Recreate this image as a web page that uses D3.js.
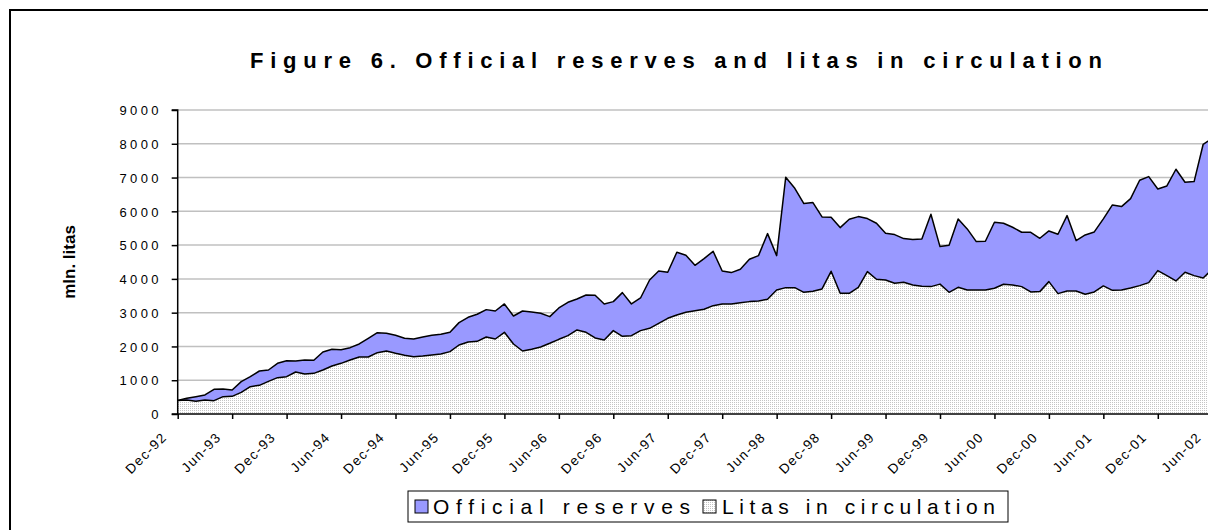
<!DOCTYPE html>
<html>
<head>
<meta charset="utf-8">
<script src="https://cdn.jsdelivr.net/npm/d3@7"></script>
<style>
  html, body { margin: 0; padding: 0; background: #fff; overflow: hidden; }
  svg { display: block; font-family: Arial, "Liberation Sans", sans-serif; font-variant-ligatures: none; }
</style>
</head>
<body>
<svg id="chart" width="1208" height="530"></svg>
<script>
// ---- data (monthly, Dec-92 .. Jun-02), mln. litas ----
const tickLabels = ["Dec-92","Jun-93","Dec-93","Jun-94","Dec-94","Jun-95","Dec-95","Jun-96","Dec-96","Jun-97",
  "Dec-97","Jun-98","Dec-98","Jun-99","Dec-99","Jun-00","Dec-00","Jun-01","Dec-01","Jun-02"];
const yTicks = [0,1000,2000,3000,4000,5000,6000,7000,8000,9000];
const seriesNames = ["Official reserves", "Litas in circulation"];

const officialReserves = [
  400,464,513,563,730,740,711,957,1105,1273,1303,1500,
  1579,1570,1600,1590,1836,1915,1905,1964,2073,2241,2409,2389,
  2330,2241,2221,2280,2330,2360,2419,2705,2863,2952,3090,3050,
  3258,2902,3050,3020,2981,2883,3140,3307,3406,3524,3514,3258,
  3327,3593,3258,3435,3968,4235,4195,4788,4699,4403,4600,4817,
  4235,4186,4284,4580,4689,5341,4689,7009,6683,6229,6259,5834,
  5824,5518,5765,5844,5785,5647,5350,5311,5193,5163,5183,5913,
  4956,4995,5775,5479,5104,5113,5676,5647,5528,5380,5380,5202,
  5420,5321,5874,5133,5301,5390,5775,6190,6140,6377,6920,7029,
  6663,6752,7246,6861,6881,7986,8164
];
const litasInCirculation = [
  400,415,375,415,395,513,523,642,810,849,967,1076,
  1105,1244,1185,1204,1303,1421,1500,1600,1688,1688,1816,1866,
  1797,1737,1698,1718,1747,1777,1846,2043,2132,2152,2280,2221,
  2419,2073,1866,1915,1984,2093,2211,2320,2488,2419,2251,2192,
  2468,2300,2320,2468,2537,2685,2833,2932,3011,3060,3100,3208,
  3258,3258,3297,3327,3346,3396,3672,3741,3741,3603,3633,3702,
  4225,3574,3574,3751,4215,3988,3968,3870,3899,3820,3781,3771,
  3845,3603,3751,3672,3672,3672,3722,3840,3820,3771,3613,3623,
  3919,3564,3643,3643,3544,3613,3791,3662,3672,3731,3801,3889,
  4245,4097,3939,4195,4097,4028,4284
];

// ---- layout ----
const svg = d3.select("#chart");
const plotLeft = 177.7, plotTop = 110, plotBottom = 414;
const monthStep = 9.075;
const n = officialReserves.length;
const x = d3.scaleLinear().domain([0, n - 1]).range([plotLeft, plotLeft + (n - 1) * monthStep]);
const y = d3.scaleLinear().domain([0, 9000]).range([plotBottom, plotTop]);
const narrow = "'Liberation Sans Narrow', 'Arial Narrow', Arial, sans-serif";

// pattern for litas area
const defs = svg.append("defs");
const pat = defs.append("pattern").attr("id", "dots").attr("width", 2).attr("height", 2)
  .attr("patternUnits", "userSpaceOnUse");
pat.append("rect").attr("width", 2).attr("height", 2).attr("fill", "#ffffff");
pat.append("rect").attr("width", 1).attr("height", 1).attr("fill", "#c4c4c4");

// frame
svg.append("rect").attr("x", 10).attr("y", 10).attr("width", 1400).attr("height", 700)
  .attr("fill", "#fff").attr("stroke", "#000").attr("stroke-width", 2);

// title
svg.append("text").attr("x", 250).attr("y", 68)
  .attr("font-size", 22).attr("font-weight", "bold").attr("font-family", narrow)
  .attr("textLength", 852).attr("lengthAdjust", "spacing")
  .text("Figure 6. Official reserves and litas in circulation");

// gridlines
svg.append("g").selectAll("line").data(yTicks.filter(d => d > 0)).join("line")
  .attr("x1", plotLeft).attr("x2", 1210)
  .attr("y1", d => y(d)).attr("y2", d => y(d))
  .attr("stroke", "#c0c0c0").attr("stroke-width", 1.5);

// areas
const areaRes = d3.area().x((d, i) => x(i)).y0(y(0)).y1(d => y(d));
svg.append("path").datum(officialReserves).attr("d", areaRes)
  .attr("fill", "#9999ff").attr("stroke", "none");
svg.append("path").datum(officialReserves)
  .attr("d", d3.line().x((d, i) => x(i)).y(d => y(d)))
  .attr("fill", "none").attr("stroke", "#000").attr("stroke-width", 1.5).attr("stroke-linejoin", "round");
svg.append("path").datum(litasInCirculation).attr("d", areaRes)
  .attr("fill", "url(#dots)").attr("stroke", "none");
svg.append("path").datum(litasInCirculation)
  .attr("d", d3.line().x((d, i) => x(i)).y(d => y(d)))
  .attr("fill", "none").attr("stroke", "#000").attr("stroke-width", 1.5).attr("stroke-linejoin", "round");

// y axis
const yAxis = d3.axisLeft(y).tickValues(yTicks).tickSize(6).tickFormat(d => d);
const gy = svg.append("g").attr("transform", `translate(${plotLeft},0)`).call(yAxis);
gy.select(".domain").attr("stroke", "#000").attr("stroke-width", 1.5).attr("d", `M-6,${plotTop}H0V${plotBottom}H-6`);
gy.selectAll(".tick line").attr("stroke", "#000").attr("stroke-width", 1.5);
gy.selectAll(".tick text").attr("font-size", 13).attr("font-family", "Arial, 'Liberation Sans', sans-serif")
  .attr("fill", "#000").attr("letter-spacing", 3.3).attr("x", -16).attr("dy", "0.36em");

// x axis
const tickIdx = tickLabels.map((d, i) => i * 6);
const xAxis = d3.axisBottom(x).tickValues(tickIdx).tickSize(5).tickFormat(() => "");
const gx = svg.append("g").attr("transform", `translate(0,${plotBottom})`).call(xAxis);
gx.select(".domain").attr("stroke", "#000").attr("stroke-width", 1.5).attr("d", `M${plotLeft},0H1210`);
gx.selectAll(".tick line").attr("stroke", "#000").attr("stroke-width", 1.5);
svg.append("g").selectAll("text").data(tickLabels).join("text")
  .attr("transform", (d, i) => `translate(${x(tickIdx[i]) - 10},${plotBottom + 24}) rotate(-45)`)
  .attr("text-anchor", "end").attr("font-size", 13.5).attr("letter-spacing", 1.4)
  .text(d => d);

// y axis title
svg.append("text").attr("transform", "translate(75,262) rotate(-90)")
  .attr("text-anchor", "middle").attr("font-size", 17).attr("font-weight", "bold")
  .text("mln. litas");

// legend
const lg = svg.append("g");
lg.append("rect").attr("x", 408).attr("y", 491).attr("width", 600).attr("height", 31)
  .attr("fill", "#fff").attr("stroke", "#000").attr("stroke-width", 1);
const legendItems = [
  { name: seriesNames[0], fill: "#9999ff", sx: 415, tx: 433, len: 257 },
  { name: seriesNames[1], fill: "url(#dots)", sx: 703, tx: 722, len: 273 }
];
legendItems.forEach(it => {
  lg.append("rect").attr("x", it.sx).attr("y", 500).attr("width", 13).attr("height", 13)
    .attr("fill", it.fill).attr("stroke", "#000").attr("stroke-width", 1);
  lg.append("text").attr("x", it.tx).attr("y", 514).attr("font-size", 21).attr("font-family", narrow)
    .attr("textLength", it.len).attr("lengthAdjust", "spacing").text(it.name);
});
</script>
</body>
</html>
